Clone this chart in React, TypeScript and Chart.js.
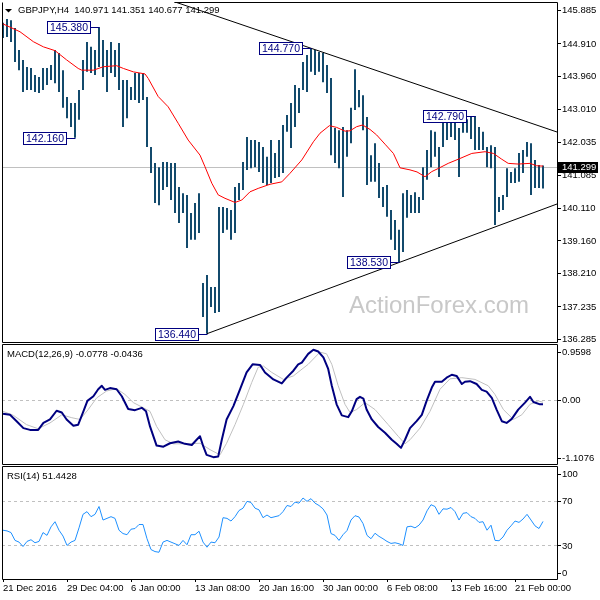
import React, { useEffect, useRef } from "react";
import { Chart, registerables } from "chart.js";

Chart.register(...registerables);

const FONT = '"Liberation Sans", Arial, sans-serif';
const NAVY = "#000080";
const BAR = "#134a6c";

// ---- price bars (one entry per two H4 bars) ----
const highs = [
  145.51, 145.62, 145.59, 145.36, 144.72, 144.43, 144.22, 144.19, 143.99, 143.93,
  144.19, 144.19, 144.28, 144.72, 144.63, 144.13, 143.35, 143.17, 143.17, 143.55,
  144.43, 144.95, 144.81, 144.72, 145.38, 145.01, 144.72, 144.95, 144.72, 144.92,
  143.84, 143.84, 143.64, 144.05, 144.05, 144.05, 143.35, 141.89, 141.42, 141.30,
  141.45, 141.45, 141.42, 141.42, 140.72, 140.54, 140.49, 139.96, 140.25, 140.54,
  137.92, 138.15, 137.80, 137.80, 140.14, 140.14, 140.11, 140.05, 140.72, 140.84,
  141.45, 142.18, 142.09, 142.09, 142.03, 141.89, 141.60, 142.09, 141.71, 142.09,
  142.53, 142.82, 143.17, 143.70, 143.61, 144.37, 144.57, 144.77, 144.72, 144.66,
  144.63, 144.28, 143.90, 142.44, 142.38, 142.47, 142.38, 143.03, 144.16, 143.55,
  143.40, 142.76, 141.65, 142.00, 141.42, 140.72, 140.78, 140.05, 139.76, 139.47,
  140.54, 140.63, 140.49, 140.57, 140.43, 141.30, 141.80, 142.38, 142.33, 141.89,
  142.62, 142.59, 142.59, 142.59, 142.44, 142.67, 142.70, 142.76, 142.79, 142.47,
  142.33, 141.89, 141.94, 141.89, 140.43, 140.49, 141.27, 141.16, 141.27, 141.71,
  141.80, 142.03, 142.00, 141.51, 141.36, 141.351,
];
const lows = [
  145.07, 145.10, 144.95, 144.37, 144.13, 143.49, 143.55, 143.55, 143.49, 143.46,
  143.55, 143.70, 143.84, 143.75, 143.49, 143.03, 142.73, 142.47, 142.16, 142.68,
  143.55, 144.08, 144.05, 143.99, 144.22, 143.93, 143.49, 144.05, 143.93, 143.55,
  142.47, 142.73, 143.26, 143.26, 143.17, 143.26, 141.89, 141.13, 140.25, 140.19,
  140.63, 140.72, 140.34, 139.96, 139.67, 139.96, 138.94, 139.18, 139.18, 139.38,
  136.93, 136.44, 137.22, 137.04, 137.07, 139.38, 139.47, 139.18, 139.38, 140.34,
  140.63, 141.22, 141.27, 141.30, 141.16, 140.84, 140.78, 140.84, 140.98, 141.01,
  141.13, 142.33, 141.86, 142.47, 142.88, 143.55, 143.49, 144.08, 143.99, 144.08,
  143.78, 143.46, 141.65, 141.42, 141.27, 140.43, 141.60, 142.00, 142.97, 143.05,
  142.38, 140.78, 140.87, 140.87, 140.40, 140.14, 139.85, 139.18, 138.88, 138.53,
  138.82, 139.82, 139.96, 139.96, 139.96, 140.34, 140.93, 141.30, 141.60, 141.01,
  141.89, 142.09, 142.18, 142.09, 141.01, 142.30, 142.30, 142.12, 141.80, 141.80,
  141.80, 141.30, 141.27, 139.61, 139.99, 140.05, 140.43, 140.84, 140.84, 140.87,
  141.13, 141.60, 140.49, 140.69, 140.69, 140.677,
];

// ---- moving average (red) read as [bar index, price] ----
const maKnots = [
  [0, 145.48], [4.25, 145.25], [7.6, 144.96], [10.1, 144.81], [13, 144.70], [15.9, 144.43],
  [18.8, 144.18], [19.7, 144.13], [22.6, 144.13], [25.1, 144.23], [28.4, 144.26], [30.1, 144.18],
  [32.6, 144.08], [35.5, 144.02], [36.3, 143.89], [38.8, 143.36], [41.3, 143.06], [43.8, 142.58],
  [46.3, 142.09], [49.25, 141.65], [50.5, 141.31], [52.2, 140.83], [53.8, 140.49], [55.5, 140.39],
  [58, 140.27], [59.7, 140.34], [61.75, 140.58], [63.8, 140.68], [66.75, 140.80], [69.7, 140.87],
  [71.75, 141.12], [74.7, 141.51], [77.6, 142.04], [79.25, 142.29], [81.6, 142.51], [83.4, 142.46],
  [85.5, 142.35], [86.75, 142.36], [88.4, 142.48], [89.9, 142.53], [91.75, 142.40], [93.4, 142.24],
  [95.5, 141.97], [97.6, 141.70], [99.25, 141.28], [100.5, 141.25], [101.75, 141.22], [103.5, 141.16],
  [105.5, 141.02], [107.2, 141.17], [108.8, 141.26], [111.3, 141.41], [113.8, 141.53], [117.2, 141.70],
  [120.5, 141.75], [122.6, 141.70], [124.7, 141.53], [126.3, 141.41], [128.8, 141.39], [131.75, 141.41],
  [133.4, 141.34], [135, 141.33],
];

// ---- trend lines [bar index, price] ----
const trendUpper = [[40, 146.24], [138.5, 142.325]];
const trendLower = [[51, 136.44], [138.5, 140.224]];

// ---- swing labels ----
const markIdx = [24, 18, 51, 77, 99, 118];
const markPrice = [145.38, 142.16, 136.44, 144.77, 138.53, 142.79];
const markText = ["145.380", "142.160", "136.440", "144.770", "138.530", "142.790"];

const lastPrice = 141.299;
const lastPriceLabel = "141.299";

// ---- MACD [bar index, value] ----
const macdKnots = [
  [0, -0.24], [1.75, -0.26], [3.4, -0.37], [5.1, -0.49], [6.75, -0.52], [8.8, -0.52], [10.1, -0.40],
  [11.75, -0.34], [13.4, -0.19], [14.7, -0.22], [15.9, -0.34], [17.6, -0.45], [18.8, -0.43], [20.1, -0.20],
  [21.1, -0.02], [22.6, 0.06], [23.8, 0.18], [24.7, 0.24], [25.5, 0.17], [26.75, 0.20], [28.4, 0.18],
  [29.7, 0.06], [31.3, -0.16], [33, -0.18], [34.7, -0.14], [35.75, -0.20], [36.75, -0.46], [38.4, -0.79],
  [40.1, -0.81], [41.75, -0.75], [43.8, -0.72], [45.5, -0.76], [47.2, -0.78], [48.4, -0.69], [49.25, -0.63],
  [50.1, -0.81], [50.9, -0.95], [52.6, -0.99], [53.8, -0.98], [54.7, -0.69], [55.9, -0.34], [57.6, -0.11],
  [59.25, 0.18], [60.9, 0.47], [62.4, 0.61], [64.25, 0.60], [65.5, 0.47], [67.6, 0.35], [69.7, 0.28],
  [70.9, 0.38], [72.6, 0.50], [73.8, 0.61], [74.7, 0.64], [76.3, 0.79], [77.6, 0.86], [78.8, 0.83],
  [80.1, 0.73], [81.3, 0.53], [82.2, 0.24], [83.4, -0.08], [84.7, -0.27], [86.3, -0.30], [87.2, -0.20],
  [88.4, 0.01], [89.25, 0.05], [90.1, 0.02], [90.9, -0.17], [92.2, -0.34], [93.8, -0.47], [95.5, -0.57],
  [97.2, -0.69], [98.4, -0.76], [99.5, -0.83], [100.5, -0.69], [101.75, -0.49], [103.4, -0.37], [104.7, -0.26],
  [105.9, -0.02], [107.2, 0.21], [108, 0.31], [109.7, 0.31], [110.9, 0.38], [112.2, 0.43], [113.4, 0.41],
  [114.7, 0.27], [115.5, 0.31], [116.75, 0.32], [118.4, 0.27], [119.7, 0.17], [120.9, 0.14], [122.2, 0.03],
  [123.4, -0.17], [124.7, -0.37], [125.9, -0.40], [127.2, -0.33], [128.8, -0.17], [130.5, -0.05], [131.75, 0.05],
  [132.6, -0.04], [134.25, -0.08], [135, -0.0778],
];
const signalKnots = [
  [0, -0.20], [2.6, -0.27], [5.9, -0.43], [8.8, -0.50], [11.75, -0.40], [14.7, -0.26], [17.2, -0.31],
  [19.25, -0.34], [21.3, -0.17], [23.4, 0.03], [25.9, 0.15], [28.4, 0.19], [30.5, 0.09], [32.6, -0.05],
  [35.1, -0.14], [36.75, -0.20], [38.4, -0.46], [40.5, -0.69], [42.6, -0.76], [45.9, -0.76], [49.25, -0.75],
  [51.75, -0.86], [54.25, -0.95], [55.9, -0.75], [58, -0.43], [60.1, -0.08], [62.2, 0.30], [63.8, 0.56],
  [65.1, 0.58], [67.2, 0.47], [70.1, 0.35], [72.6, 0.41], [74.25, 0.50], [76.3, 0.61], [79.25, 0.82],
  [80.9, 0.79], [82.2, 0.61], [83.8, 0.24], [85.5, -0.08], [86.75, -0.22], [88.4, -0.17], [90.5, -0.05],
  [93, -0.17], [96.3, -0.43], [98.8, -0.63], [100.5, -0.76], [101.75, -0.69], [104.25, -0.49], [106.75, -0.20],
  [109.25, 0.18], [111.75, 0.36], [114.7, 0.38], [118, 0.35], [121.3, 0.24], [123, 0.09], [125.1, -0.17],
  [127.6, -0.34], [129.7, -0.26], [131.75, -0.08], [133.8, -0.02], [135, -0.0436],
];

// ---- RSI(14), one value per bar ----
const rsiVals = [
  43.6, 43.0, 41.5, 34.5, 33.0, 29.0, 33.6, 35.1, 32.4, 33.6,
  41.5, 39.0, 46.6, 51.2, 43.6, 38.4, 30.0, 33.0, 34.5, 45.7,
  57.8, 60.2, 55.7, 57.8, 64.8, 52.7, 54.2, 55.7, 54.2, 43.6,
  40.6, 39.6, 44.5, 45.1, 48.7, 48.7, 36.0, 26.3, 24.5, 23.9,
  33.0, 34.5, 33.0, 31.5, 30.0, 34.5, 30.6, 39.6, 39.6, 42.7,
  33.0, 28.4, 33.0, 32.4, 37.5, 54.8, 54.2, 51.8, 55.7, 61.2,
  63.3, 69.4, 68.4, 63.3, 61.8, 54.8, 57.2, 54.8, 55.7, 56.6,
  60.2, 65.7, 64.8, 68.7, 67.8, 72.4, 69.4, 71.8, 67.8, 65.7,
  62.7, 57.2, 40.6, 39.0, 34.5, 39.6, 43.3, 52.7, 56.6, 55.4,
  49.6, 39.0, 36.0, 40.9, 38.1, 36.0, 33.6, 31.8, 32.4, 31.5,
  30.0, 46.6, 47.2, 45.7, 48.1, 52.7, 60.9, 66.4, 64.8, 57.8,
  62.7, 62.4, 63.9, 60.2, 52.7, 58.7, 59.3, 55.7, 54.2, 50.6,
  51.2, 43.6, 48.1, 34.5, 34.2, 37.5, 43.6, 47.5, 51.8, 50.6,
  53.6, 57.8, 52.7, 47.5, 45.1, 51.44,
];

// ---- axis ticks ----
const priceTicks = [145.885, 144.91, 143.96, 143.01, 142.035, 141.085, 140.11, 139.16, 138.21, 137.235, 136.285];
const priceTickLabels = ["145.885", "144.910", "143.960", "143.010", "142.035", "141.085", "140.110", "139.160", "138.210", "137.235", "136.285"];
const macdTicks = [0.9598, 0, -1.1076];
const macdTickLabels = ["0.9598", "0.00", "-1.1076"];
const rsiTicks = [100, 70, 30, 0];
const rsiTickLabels = ["100", "70", "30", "0"];
const rsiLevels = [70, 30];
const macdLevels = [0];
const xTickIdx = [0, 16, 32, 48, 64, 80, 96, 112, 128];
const xTickLabels = ["21 Dec 2016", "29 Dec 04:00", "6 Jan 00:00", "13 Jan 08:00", "20 Jan 16:00", "30 Jan 00:00", "6 Feb 08:00", "13 Feb 16:00", "21 Feb 00:00"];

const X_MIN = -0.25;
const X_MAX = 138.5;

const pts = (k: number[][]) => k.map(([x, y]) => ({ x, y }));

function panelPlugin(cfg: any) {
  return {
    id: "panel",
    beforeDatasetsDraw(chart: any) {
      const { ctx, chartArea: a } = chart;
      const ys = chart.scales.y;
      ctx.save();
      ctx.lineWidth = 1;
      if (cfg.levels) {
        ctx.strokeStyle = "#c0c0c0";
        ctx.setLineDash([3, 3]);
        for (const v of cfg.levels) {
          const y = Math.round(ys.getPixelForValue(v)) + 0.5;
          ctx.beginPath();
          ctx.moveTo(a.left, y);
          ctx.lineTo(a.right, y);
          ctx.stroke();
        }
        ctx.setLineDash([]);
      }
      if (cfg.lastPrice !== undefined) {
        const y = Math.round(ys.getPixelForValue(cfg.lastPrice)) + 0.5;
        ctx.strokeStyle = "#c0c0c0";
        ctx.beginPath();
        ctx.moveTo(a.left, y);
        ctx.lineTo(a.right, y);
        ctx.stroke();
      }
      if (cfg.watermark) {
        ctx.font = `24px ${FONT}`;
        ctx.fillStyle = "#c8c8c8";
        ctx.textAlign = "left";
        ctx.textBaseline = "alphabetic";
        ctx.fillText(cfg.watermark, a.left + 347, a.top + 311);
      }
      ctx.restore();
    },
    afterDatasetsDraw(chart: any) {
      const { ctx, chartArea: a } = chart;
      const xs = chart.scales.x;
      const ys = chart.scales.y;
      ctx.save();
      ctx.lineWidth = 1;
      if (cfg.marks) {
        ctx.font = `10.5px ${FONT}`;
        cfg.marks.idx.forEach((idx: number, k: number) => {
          const px = Math.round(xs.getPixelForValue(idx));
          const py = Math.round(ys.getPixelForValue(cfg.marks.price[k]));
          const t = cfg.marks.text[k];
          const bw = Math.round(ctx.measureText(t).width) + 5;
          const right = px - 9;
          const left = right - bw;
          const top = py - 6;
          ctx.fillStyle = "#fff";
          ctx.fillRect(left, top, bw, 12);
          ctx.strokeStyle = NAVY;
          ctx.strokeRect(left + 0.5, top + 0.5, bw, 12);
          ctx.beginPath();
          ctx.moveTo(right + 0.5, py + 0.5);
          ctx.lineTo(px + 0.5, py + 0.5);
          ctx.stroke();
          ctx.fillStyle = NAVY;
          ctx.textAlign = "center";
          ctx.textBaseline = "middle";
          ctx.fillText(t, left + bw / 2 + 0.5, top + 7);
        });
      }
      // frame
      const L = a.left + 0.5, R = a.right + 0.5, T = a.top + 0.5, B = a.bottom + 0.5;
      ctx.strokeStyle = "#000";
      ctx.beginPath();
      ctx.moveTo(L, T);
      ctx.lineTo(L, B);
      ctx.lineTo(R, B);
      ctx.lineTo(R, T);
      ctx.lineTo(cfg.topFrom !== undefined ? cfg.topFrom + 0.5 : L, T);
      ctx.stroke();
      // title
      ctx.font = `9.5px ${FONT}`;
      ctx.fillStyle = "#000";
      ctx.textAlign = "left";
      ctx.textBaseline = "alphabetic";
      ctx.fillText(cfg.title, a.left + cfg.titleX, a.top + cfg.titleDy);
      if (cfg.triangle) {
        ctx.beginPath();
        ctx.moveTo(a.left + 3, a.top + 7);
        ctx.lineTo(a.left + 10, a.top + 7);
        ctx.lineTo(a.left + 6.5, a.top + 10.5);
        ctx.closePath();
        ctx.fill();
      }
      // right axis ticks + labels
      ctx.textBaseline = "middle";
      cfg.ticks.forEach((v: number, k: number) => {
        let y = ys.getPixelForValue(v);
        if (cfg.clamp) y = Math.min(Math.max(y, a.top + 8), a.bottom - 6);
        const ty = Math.round(y) + 0.5;
        ctx.beginPath();
        ctx.moveTo(a.right + 1, ty);
        ctx.lineTo(a.right + 4, ty);
        ctx.stroke();
        ctx.fillStyle = "#000";
        ctx.fillText(cfg.tickLabels[k], a.right + 5, y + 0.5);
      });
      if (cfg.lastPrice !== undefined) {
        const py = Math.round(ys.getPixelForValue(cfg.lastPrice));
        ctx.fillStyle = "#000";
        ctx.fillRect(a.right + 1, py - 5, 40, 11);
        ctx.fillStyle = "#fff";
        ctx.fillText(cfg.lastLabel, a.right + 5, py + 0.5);
      }
      ctx.restore();
    },
  };
}

const baseOptions = (pad: any, scales: any) => ({
  responsive: false,
  animation: false,
  devicePixelRatio: 1,
  events: [],
  layout: { padding: pad },
  plugins: { legend: { display: false }, tooltip: { enabled: false } },
  scales,
});

const hiddenX = () => ({ type: "linear", min: X_MIN, max: X_MAX, display: false, offset: false });

function makePrice(canvas: HTMLCanvasElement) {
  const bars = highs.map((h, i) => ({ x: i, y: [lows[i], h] }));
  return new Chart(canvas, {
    type: "bar",
    data: {
      datasets: [
        { type: "line", data: pts(trendUpper), borderColor: "#000", borderWidth: 1, pointRadius: 0, order: 0 },
        { type: "line", data: pts(trendLower), borderColor: "#000", borderWidth: 1, pointRadius: 0, order: 0 },
        { type: "line", data: pts(maKnots), borderColor: "#ff0000", borderWidth: 1, pointRadius: 0, order: 1 },
        {
          type: "bar", data: bars, backgroundColor: BAR, borderWidth: 0, barThickness: 2,
          inflateAmount: 0, grouped: false, order: 2,
        },
      ],
    } as any,
    options: baseOptions({ left: 2, top: 2, right: 43, bottom: 8 }, {
      x: hiddenX(),
      y: { type: "linear", min: 136.197, max: 146.119, display: false },
    }) as any,
    plugins: [panelPlugin({
      title: "GBPJPY,H4  140.971 141.351 140.677 141.299", titleX: 16, titleDy: 11, triangle: true,
      ticks: priceTicks, tickLabels: priceTickLabels, clamp: false,
      lastPrice, lastLabel: lastPriceLabel, watermark: "ActionForex.com", topFrom: 174,
      marks: { idx: markIdx, price: markPrice, text: markText },
    })],
  });
}

function makeMacd(canvas: HTMLCanvasElement) {
  return new Chart(canvas, {
    type: "line",
    data: {
      datasets: [
        { data: pts(macdKnots), borderColor: NAVY, borderWidth: 2, pointRadius: 0, borderJoinStyle: "round", order: 0 },
        { data: pts(signalKnots), borderColor: "#c0c0c0", borderWidth: 1, pointRadius: 0, order: 1 },
      ],
    } as any,
    options: baseOptions({ left: 2, top: 4, right: 43, bottom: 4 }, {
      x: hiddenX(),
      y: { type: "linear", min: -1.1076, max: 0.9598, display: false },
    }) as any,
    plugins: [panelPlugin({
      title: "MACD(12,26,9) -0.0778 -0.0436", titleX: 5, titleDy: 13,
      ticks: macdTicks, tickLabels: macdTickLabels, clamp: true, levels: macdLevels,
    })],
  });
}

function makeRsi(canvas: HTMLCanvasElement) {
  return new Chart(canvas, {
    type: "line",
    data: {
      datasets: [
        { data: rsiVals.map((v, i) => ({ x: i, y: v })), borderColor: "#1e90ff", borderWidth: 1, pointRadius: 0 },
      ],
    } as any,
    options: baseOptions({ left: 2, top: 4, right: 43, bottom: 0 }, {
      x: {
        type: "linear", min: X_MIN, max: X_MAX, offset: false, position: "bottom",
        afterBuildTicks: (s: any) => { s.ticks = xTickIdx.map((v) => ({ value: v })); },
        afterFit: (s: any) => { s.height = 21; },
        grid: { display: true, drawOnChartArea: false, drawTicks: true, tickLength: 3, color: "#000", lineWidth: 1 },
        border: { display: false },
        ticks: {
          autoSkip: false, maxRotation: 0, minRotation: 0, align: "start", padding: 1,
          color: "#000", font: { family: FONT, size: 9.5 },
          callback: (_v: any, i: number) => xTickLabels[i] ?? "",
        },
      },
      y: { type: "linear", min: 0, max: 101, display: false },
    }) as any,
    plugins: [panelPlugin({
      title: "RSI(14) 51.4428", titleX: 5, titleDy: 13,
      ticks: rsiTicks, tickLabels: rsiTickLabels, clamp: true, levels: rsiLevels,
    })],
  });
}

export default function App() {
  const refA = useRef<HTMLCanvasElement>(null);
  const refB = useRef<HTMLCanvasElement>(null);
  const refC = useRef<HTMLCanvasElement>(null);

  useEffect(() => {
    const charts = [makePrice(refA.current!), makeMacd(refB.current!), makeRsi(refC.current!)];
    return () => charts.forEach((c) => c.destroy());
  }, []);

  return (
    <div style={{ position: "fixed", left: 0, top: 0, width: 600, height: 600, background: "#fff", overflow: "hidden" }}>
      <canvas ref={refA} width={600} height={350} style={{ position: "absolute", left: 0, top: 0 }} />
      <canvas ref={refB} width={600} height={128} style={{ position: "absolute", left: 0, top: 340 }} />
      <canvas ref={refC} width={600} height={138} style={{ position: "absolute", left: 0, top: 462 }} />
    </div>
  );
}
